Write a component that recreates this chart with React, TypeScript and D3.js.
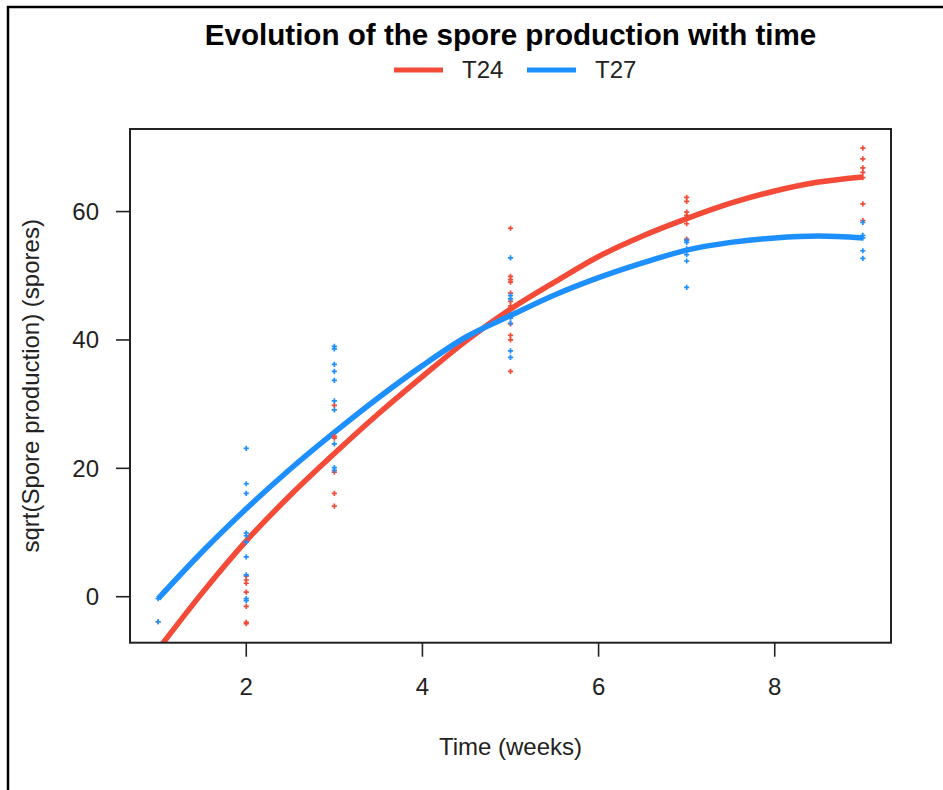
import React from "react";
import * as d3 from "d3";

// ---- data ----
const seriesNames = ["T24", "T27"];
const seriesColors = ["#F44B39", "#1E8FFF"];

// fitted curves (x in weeks)
const curveX = [1, 1.5, 2, 2.5, 3, 3.5, 4, 4.5, 5, 5.5, 6, 6.5, 7, 7.5, 8, 8.5, 9];
const curveT24 = [-8.2, 0.6, 8.7, 15.8, 22.3, 28.5, 34.3, 39.9, 44.8, 49.0, 53.0, 56.2, 58.9, 61.3, 63.2, 64.6, 65.4];
const curveT27 = [-0.3, 7.0, 13.7, 19.9, 25.6, 31.0, 36.0, 40.5, 43.8, 47.0, 49.7, 52.0, 54.0, 55.2, 55.9, 56.2, 55.9];

// observations
const obsWeeks = [1, 2, 3, 5, 7, 9];
const obsT24 = [
  [-3.9],
  [3.2, 2.6, 2.1, 0.7, -1.5, -4.0, -4.2],
  [29.8, 25.0, 24.7, 19.4, 16.1, 14.1],
  [57.4, 49.9, 49.4, 49.0, 47.3, 46.0, 45.3, 42.5, 40.7, 40.0, 35.1],
  [62.2, 61.6, 59.9, 59.4, 58.1, 55.7],
  [69.9, 68.2, 66.8, 66.1, 65.3, 61.2, 58.6],
];
const obsT27 = [
  [-3.9, -0.3],
  [23.1, 17.6, 16.1, 9.9, 9.5, 8.5, 6.2, 3.4, -0.3, -0.6],
  [39.0, 38.6, 36.2, 35.1, 33.7, 30.5, 29.1, 23.8, 20.1, 19.7],
  [52.8, 46.9, 46.4, 43.9, 43.4, 42.6, 38.3, 37.3],
  [55.5, 55.2, 54.2, 53.3, 52.3, 48.2],
  [58.3, 56.3, 55.9, 53.9, 52.7],
];

const xTicks = [2, 4, 6, 8];
const yTicks = [0, 20, 40, 60];

const title = "Evolution of the spore production with time";
const xLabel = "Time (weeks)";
const yLabel = "sqrt(Spore production) (spores)";

export default function App() {
  const W = 943;
  const H = 790;
  const plot = { left: 130, right: 891, top: 129, bottom: 642.7 };
  const font = "'Liberation Sans', Arial, sans-serif";

  const allY = [...obsT24.flat(), ...obsT27.flat()];
  const yMin = d3.min(allY) as number;
  const yMax = d3.max(allY) as number;
  const yPad = (yMax - yMin) * 0.04;
  const xMin = d3.min(obsWeeks) as number;
  const xMax = d3.max(obsWeeks) as number;
  const xPad = (xMax - xMin) * 0.04;

  const x = d3.scaleLinear().domain([xMin - xPad, xMax + xPad]).range([plot.left, plot.right]);
  const y = d3.scaleLinear().domain([yMin - yPad, yMax + yPad]).range([plot.bottom, plot.top]);

  const line = d3
    .line<[number, number]>()
    .x((d) => x(d[0]))
    .y((d) => y(d[1]))
    .curve(d3.curveMonotoneX);

  const curves = [curveT24, curveT27].map((vals) => line(curveX.map((cx, i) => [cx, vals[i]] as [number, number])) as string);
  const obs = [obsT24, obsT27];

  const plus = (cx: number, cy: number, color: string, key: string) => (
    <path
      key={key}
      d={`M${cx - 2.6},${cy}H${cx + 2.6}M${cx},${cy - 2.6}V${cy + 2.6}`}
      stroke={color}
      strokeWidth={1.7}
      fill="none"
    />
  );

  return (
    <svg
      width={W}
      height={H}
      style={{ position: "absolute", left: 0, top: 0, background: "#fff" }}
      fontFamily={font}
    >
      <rect x={0} y={0} width={W} height={H} fill="#fff" />
      {/* outer frame */}
      <rect x={8} y={7} width={W + 20} height={H + 20} fill="none" stroke="#000" strokeWidth={2.5} />

      <defs>
        <clipPath id="plotclip">
          <rect x={plot.left} y={plot.top} width={plot.right - plot.left} height={plot.bottom - plot.top} />
        </clipPath>
      </defs>

      {/* title */}
      <text x={(plot.left + plot.right) / 2} y={45} textAnchor="middle" fontSize={29.6} fontWeight="bold" fill="#000">
        {title}
      </text>

      {/* legend */}
      {seriesNames.map((name, i) => {
        const lx = [394, 527][i];
        return (
          <g key={name}>
            <line x1={lx} x2={lx + 49} y1={70} y2={70} stroke={seriesColors[i]} strokeWidth={5} />
            <text x={lx + 68} y={70} dy="0.35em" fontSize={24} fill="#222">
              {name}
            </text>
          </g>
        );
      })}

      {/* curves */}
      <g clipPath="url(#plotclip)">
        {curves.map((d, i) => (
          <path key={i} d={d} fill="none" stroke={seriesColors[i]} strokeWidth={5.5} strokeLinejoin="round" />
        ))}
        {/* observations */}
        {obs.map((groups, si) =>
          groups.map((vals, gi) =>
            vals.map((v, vi) => plus(x(obsWeeks[gi]), y(v), seriesColors[si], `${si}-${gi}-${vi}`))
          )
        )}
      </g>

      {/* plot box */}
      <rect
        x={plot.left}
        y={plot.top}
        width={plot.right - plot.left}
        height={plot.bottom - plot.top}
        fill="none"
        stroke="#222"
        strokeWidth={2}
      />

      {/* x axis */}
      {xTicks.map((t) => (
        <g key={t}>
          <line x1={x(t)} x2={x(t)} y1={plot.bottom} y2={plot.bottom + 14} stroke="#222" strokeWidth={1.6} />
          <text x={x(t)} y={695} textAnchor="middle" fontSize={24} fill="#222">
            {t}
          </text>
        </g>
      ))}
      <text x={(plot.left + plot.right) / 2} y={755} textAnchor="middle" fontSize={24} fill="#222">
        {xLabel}
      </text>

      {/* y axis */}
      {yTicks.map((t) => (
        <g key={t}>
          <line x1={plot.left - 14} x2={plot.left} y1={y(t)} y2={y(t)} stroke="#222" strokeWidth={1.6} />
          <text x={99} y={y(t)} dy="0.35em" textAnchor="end" fontSize={24} fill="#222">
            {t}
          </text>
        </g>
      ))}
      <text
        transform={`translate(39, ${(plot.top + plot.bottom) / 2}) rotate(-90)`}
        textAnchor="middle"
        fontSize={24}
        fill="#222"
      >
        {yLabel}
      </text>
    </svg>
  );
}
